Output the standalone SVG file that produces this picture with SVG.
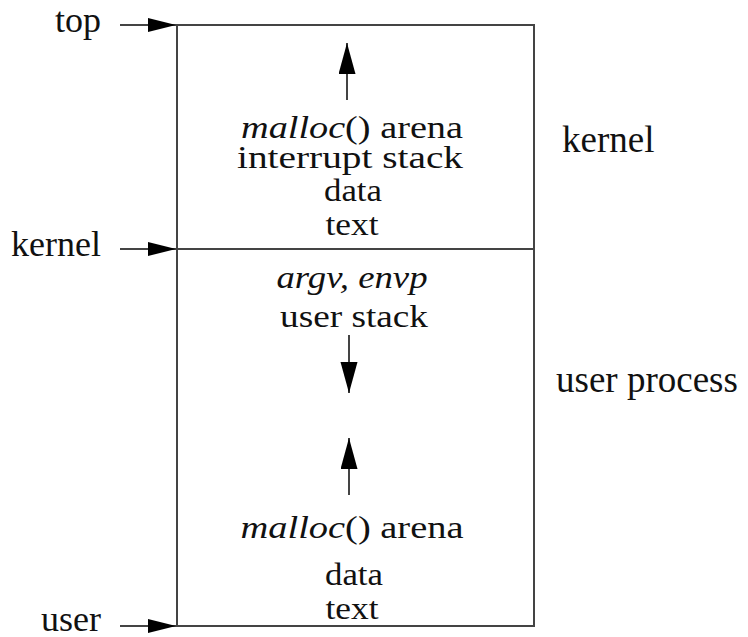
<svg xmlns="http://www.w3.org/2000/svg" width="748" height="637" viewBox="0 0 748 637">
  <style>
    text { font-family: "Liberation Serif", "Times New Roman", serif; font-size: 36px; fill: #111; }
    .s { font-size: 31px; }
    .big { font-size: 37px; }
    .c { text-anchor: middle; }
    .r { text-anchor: end; }
    .i { font-style: italic; }
    .box { fill: none; stroke: #444; stroke-width: 2; }
    .edge { stroke: #444; stroke-width: 2; fill: none; }
  </style>
  <defs>
    <marker id="hh" markerUnits="userSpaceOnUse" markerWidth="30" markerHeight="16" refX="28" refY="7" orient="auto">
      <path d="M0,0 L28,7 L0,14 Z" fill="#000"/>
    </marker>
    <marker id="vh" markerUnits="userSpaceOnUse" markerWidth="32" markerHeight="18" refX="31" refY="8.5" orient="auto">
      <path d="M0,0 L31,8.5 L0,17 Z" fill="#000"/>
    </marker>
  </defs>

  <g id="memory">
    <rect class="box" x="177" y="25" width="357" height="601"/>
    <line class="box" x1="177" y1="249" x2="534" y2="249"/>
  </g>

  <g id="kernel-region">
    <text class="c s" x="352" y="138" textLength="222" lengthAdjust="spacingAndGlyphs"><tspan class="i">malloc</tspan>() arena</text>
    <text class="c s" x="350" y="168" textLength="226" lengthAdjust="spacingAndGlyphs">interrupt stack</text>
    <text class="c s" x="353" y="201" textLength="58" lengthAdjust="spacingAndGlyphs">data</text>
    <text class="c s" x="352" y="235" textLength="53" lengthAdjust="spacingAndGlyphs">text</text>
  </g>

  <g id="user-region">
    <text class="c s i" x="352" y="288" textLength="151" lengthAdjust="spacingAndGlyphs">argv, envp</text>
    <text class="c s" x="354" y="327" textLength="148" lengthAdjust="spacingAndGlyphs">user stack</text>
    <text class="c s" x="352" y="538" textLength="223" lengthAdjust="spacingAndGlyphs"><tspan class="i">malloc</tspan>() arena</text>
    <text class="c s" x="354" y="585" textLength="58" lengthAdjust="spacingAndGlyphs">data</text>
    <text class="c s" x="352" y="619" textLength="53" lengthAdjust="spacingAndGlyphs">text</text>
  </g>

  <g id="labels">
    <text class="r" x="101" y="32">top</text>
    <text class="r" x="101" y="256">kernel</text>
    <text class="r" x="101" y="631">user</text>
    <text class="big" x="562" y="152">kernel</text>
    <text class="big" x="556" y="392">user process</text>
  </g>

  <g id="connectors">
    <line class="edge" x1="120" y1="25" x2="176" y2="25" marker-end="url(#hh)"/>
    <line class="edge" x1="120" y1="249" x2="176" y2="249" marker-end="url(#hh)"/>
    <line class="edge" x1="120" y1="626" x2="176" y2="626" marker-end="url(#hh)"/>
    <line class="edge" x1="347" y1="100" x2="347" y2="43" marker-end="url(#vh)"/>
    <line class="edge" x1="349" y1="335" x2="349" y2="393" marker-end="url(#vh)"/>
    <line class="edge" x1="349" y1="495" x2="349" y2="438" marker-end="url(#vh)"/>
  </g>
</svg>
